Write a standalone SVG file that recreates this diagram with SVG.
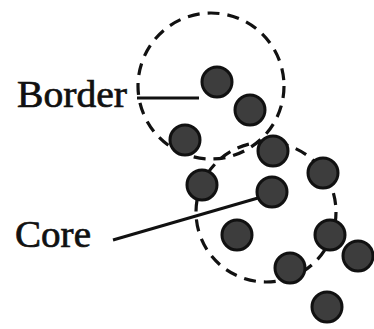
<svg xmlns="http://www.w3.org/2000/svg" width="374" height="329" viewBox="0 0 374 329">
<style>
.cl{fill:none;stroke:#111;stroke-width:3.2;stroke-dasharray:12 8}
.dot{fill:#3d3d3d;stroke:#111;stroke-width:3}
.ln{stroke:#111;stroke-width:3;fill:none}
.lb{font-family:"Liberation Serif",serif;font-size:38px;fill:#111;stroke:#111;stroke-width:0.7}
</style>
<rect width="374" height="329" fill="#fff"/>
<g id="clusters">
<circle class="cl" cx="211" cy="86" r="73"/>
<circle class="cl" cx="266" cy="212" r="70"/>
</g>
<g id="points">
<circle class="dot" cx="217" cy="82" r="15"/>
<circle class="dot" cx="250" cy="110" r="15"/>
<circle class="dot" cx="185" cy="140" r="15"/>
<circle class="dot" cx="273" cy="151" r="15"/>
<circle class="dot" cx="323" cy="173" r="15"/>
<circle class="dot" cx="202" cy="185" r="15"/>
<circle class="dot" cx="272" cy="192" r="15"/>
<circle class="dot" cx="237" cy="235" r="15"/>
<circle class="dot" cx="330" cy="235" r="15"/>
<circle class="dot" cx="358" cy="256" r="15"/>
<circle class="dot" cx="290" cy="268" r="15"/>
<circle class="dot" cx="327" cy="307" r="15"/>
</g>
<g id="connectors">
<line class="ln" x1="137" y1="98" x2="199" y2="98"/>
<line class="ln" x1="113" y1="240" x2="258" y2="198"/>
</g>
<g id="label-border"><text class="lb" x="17" y="107" textLength="110" lengthAdjust="spacingAndGlyphs">Border</text></g>
<g id="label-core"><text class="lb" x="15" y="247" textLength="76" lengthAdjust="spacingAndGlyphs">Core</text></g>
</svg>
